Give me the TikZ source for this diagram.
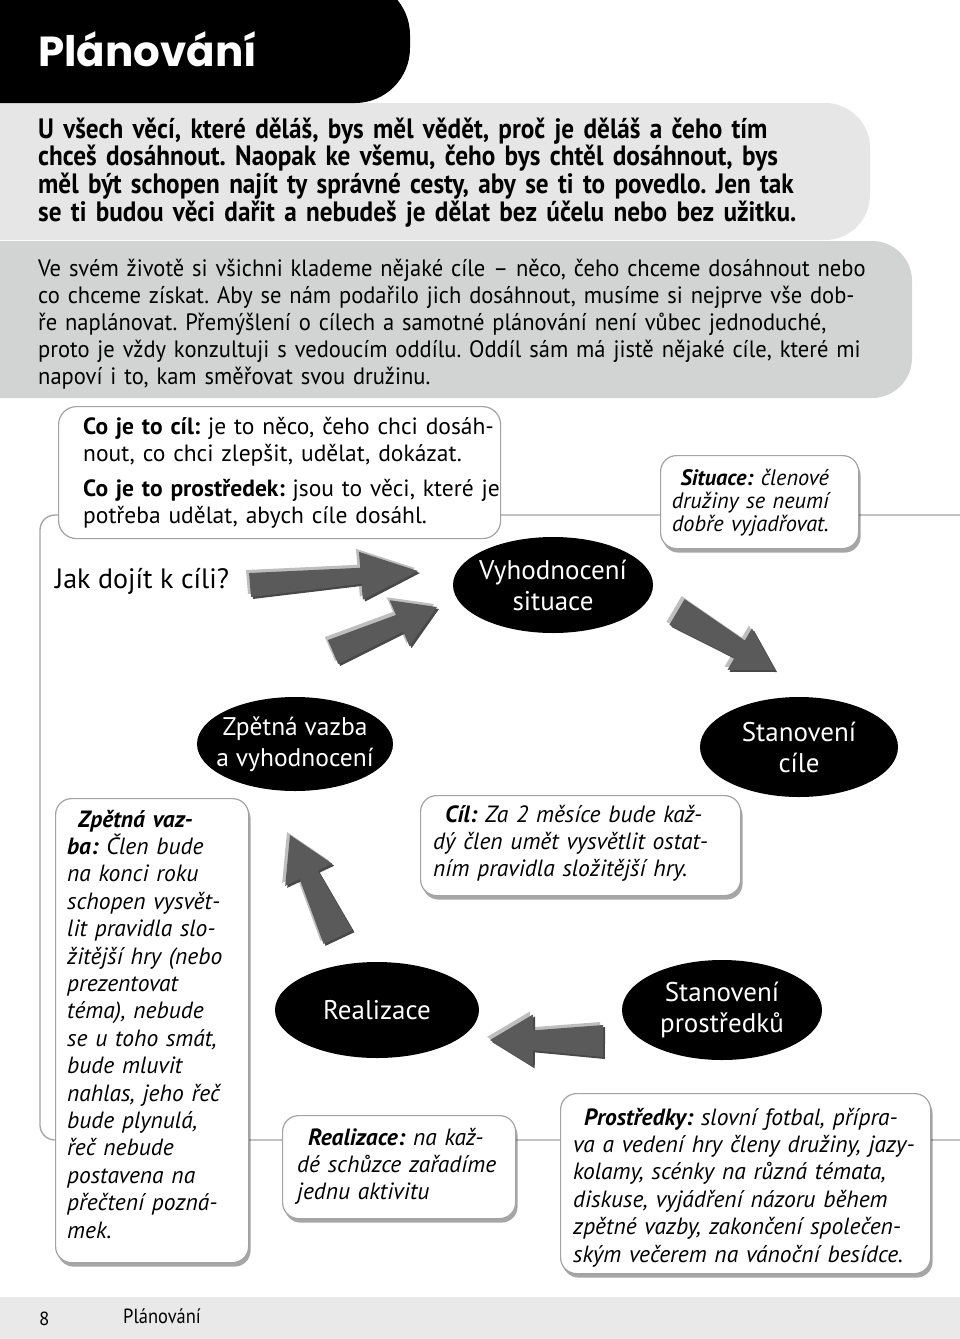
\documentclass[tikz,border=0pt]{standalone}
\usepackage{fontspec}
\setmainfont{PT Sans}
\newfontfamily\condfont[FakeStretch=0.9]{PT Sans}
\newfontfamily\semicond[FakeStretch=0.95]{PT Sans}
\newfontfamily\titlefont{Poppins}
\usetikzlibrary{calc,shadows,shapes.geometric}
\definecolor{bandA}{HTML}{E5E6E5}
\definecolor{bandB}{HTML}{D2D3D3}
\definecolor{footgray}{HTML}{E8E9E8}
\definecolor{linegray}{HTML}{A3A3A3}
\definecolor{arrdark}{HTML}{5A5A5A}
\definecolor{arrlight}{HTML}{BEBEBE}
\newcommand{\garrow}[6]{%
  \foreach \dx/\dy/\col in {-3/3/arrlight,2/-2/arrdark!80!black,0/0/arrdark}{%
    \fill[\col, xshift=\dx, yshift=\dy]
      ($#1!#4!90:#2$) -- ($#1!#3!#2!#5!90:#2$) -- ($#1!#3!#2!#6!90:#2$) -- #2
      -- ($#1!#3!#2!#6!-90:#2$) -- ($#1!#3!#2!#5!-90:#2$) -- ($#1!#4!-90:#2$) -- cycle;}}
\begin{document}
\frenchspacing
\begin{tikzpicture}[x=1pt,y=-1pt,
  plain/.style={anchor=base west, inner sep=0pt, align=left},
  card/.style={draw=linegray, line width=1.2pt, fill=white, rounded corners=16pt,
    inner sep=0pt, anchor=north west,
    drop shadow={shadow xshift=2pt, shadow yshift=-4pt, opacity=0.35, fill=black}},
  info/.style={draw=linegray, line width=1.2pt, fill=white, rounded corners=18pt,
    inner sep=0pt, anchor=north west},
  oval/.style={ellipse, fill=black, text=white, inner xsep=-30pt, inner ysep=-22pt, align=center,
    font=\fontsize{27}{31}\selectfont},
  boxtext/.style={plain, font=\itshape\fontsize{23.5}{27.4}\selectfont},
  frame/.style={draw=linegray, line width=1.3pt}
]
\useasboundingbox (0,0) rectangle (960,1339);
\fill[white] (0,0) rectangle (960,1339);
% bands
\fill[bandA, rounded corners=45pt] (-60,103) -- (870,103) -- (870,240) -- (-60,240) -- cycle;
\fill[bandB, rounded corners=40pt] (-60,241) -- (912,241) -- (912,398) -- (-60,398) -- cycle;
\fill[black, rounded corners=55pt] (-60,-20) -- (410,-20) -- (410,103) -- (-60,103) -- cycle;
\fill[footgray] (0,1297) rectangle (960,1339);
% title
\node[plain, text=white, font=\titlefont\bfseries\fontsize{42}{45}\selectfont] (title) at (38,66) {Plánování};
% intro paragraphs
\node[plain, text width=900pt, font=\condfont\bfseries\fontsize{28}{27.7}\selectfont] (introA) at (38,138)
 {U všech věcí, které děláš, bys měl vědět, proč je děláš a čeho tím\\
  chceš dosáhnout. Naopak ke všemu, čeho bys chtěl dosáhnout, bys\\
  měl být schopen najít ty správné cesty, aby se ti to povedlo. Jen tak\\
  se ti budou věci dařit a nebudeš je dělat bez účelu nebo bez užitku.};
\node[plain, text width=900pt, font=\semicond\fontsize{23.7}{27}\selectfont] (introB) at (38,276)
 {Ve svém životě si všichni klademe nějaké cíle – něco, čeho chceme dosáhnout nebo\\
  co chceme získat. Aby se nám podařilo jich dosáhnout, musíme si nejprve vše dob-\\
  ře naplánovat. Přemýšlení o cílech a samotné plánování není vůbec jednoduché,\\
  proto je vždy konzultuji s vedoucím oddílu. Oddíl sám má jistě nějaké cíle, které mi\\
  napoví i to, kam směřovat svou družinu.};
% frame lines
\draw[frame, rounded corners=15pt] (960,515) -- (40,515) -- (40,1140) -- (960,1140);
% definition box
\node[info, minimum width=442pt, minimum height=132pt] (defbox) at (58,406) {};
\node[plain, text width=430pt, font=\fontsize{23.5}{27}\selectfont] (deftext) at (83,434)
 {\textbf{Co je to cíl:} je to něco, čeho chci dosáh-\\
  nout, co chci zlepšit, udělat, dokázat.\\[8pt]
  \textbf{Co je to prostředek:} jsou to věci, které je\\
  potřeba udělat, abych cíle dosáhl.};
\node[plain, font=\fontsize{28}{30}\selectfont] (question) at (55,588) {Jak dojít k cíli?};
% cards
\node[card, minimum width=198pt, minimum height=93pt] (sitbox) at (660,455) {};
\node[plain, anchor=base east, align=right, text width=180pt, font=\itshape\fontsize{22.3}{23}\selectfont] (sittext) at (829,485)
 {\textbf{Situace:} členové\\družiny se neumí\\dobře vyjadřovat.};
\node[card, minimum width=320pt, minimum height=100pt] (cilbox) at (420,795) {};
\node[boxtext, text width=300pt] (ciltext) at (433,822)
 {\hspace*{12pt}\textbf{Cíl:} Za 2 měsíce bude kaž-\\dý člen umět vysvětlit ostat-\\ním pravidla složitější hry.};
\node[card, minimum width=193pt, minimum height=464pt] (zpbox) at (55,798) {};
\node[boxtext, text width=180pt] (zptext) at (67,827)
 {\hspace*{11pt}\textbf{Zpětná vaz-}\\\textbf{ba:} Člen bude\\na konci roku\\schopen vysvět-\\lit pravidla slo-\\žitější hry (nebo\\prezentovat\\téma), nebude\\se u toho smát,\\bude mluvit\\nahlas, jeho řeč\\bude plynulá,\\řeč nebude\\postavena na\\přečtení pozná-\\mek.};
\node[card, minimum width=233pt, minimum height=103pt] (realbox) at (282,1115) {};
\node[boxtext, text width=225pt] (realtext) at (297,1145)
 {\hspace*{11pt}\textbf{Realizace:} na kaž-\\dé schůzce zařadíme\\jednu aktivitu};
\node[card, minimum width=370pt, minimum height=180pt] (prbox) at (560,1093) {};
\node[boxtext, text width=360pt] (prtext) at (573,1125)
 {\hspace*{11pt}\textbf{Prostředky:} slovní fotbal, přípra-\\va a vedení hry členy družiny, jazy-\\kolamy, scénky na různá témata,\\diskuse, vyjádření názoru během\\zpětné vazby, zakončení společen-\\ským večerem na vánoční besídce.};
% ovals
\node[oval, minimum width=200pt, minimum height=96pt] (vyh) at (553,585) {Vyhodnocení\\situace};
\node[oval, minimum width=196pt, minimum height=94pt, font=\fontsize{25.5}{31}\selectfont] (zpet) at (295,744) {Zpětná vazba\\a vyhodnocení};
\node[oval, minimum width=198pt, minimum height=100pt] (cile) at (799,747) {Stanovení\\cíle};
\node[oval, minimum width=204pt, minimum height=96pt] (real) at (377,1010) {Realizace};
\node[oval, minimum width=200pt, minimum height=100pt] (prost) at (722,1010) {Stanovení\\prostředků};
% arrows
\garrow{(250,585)}{(418,571)}{0.66}{12pt}{8pt}{24pt}
\garrow{(333,652)}{(437,607)}{0.64}{13pt}{9pt}{25pt}
\garrow{(677,612)}{(775,670)}{0.64}{15pt}{10pt}{24pt}
\garrow{(603,1041)}{(490,1040)}{0.62}{16pt}{10pt}{26pt}
\garrow{(338,937)}{(290,835)}{0.61}{16pt}{10pt}{26pt}
% footer
\node[plain, font=\fontsize{19}{20}\selectfont] (pagenum) at (39,1325) {8};
\node[plain, font=\condfont\fontsize{20.5}{22}\selectfont] (foottitle) at (123,1323) {Plánování};
\end{tikzpicture}
\end{document}
